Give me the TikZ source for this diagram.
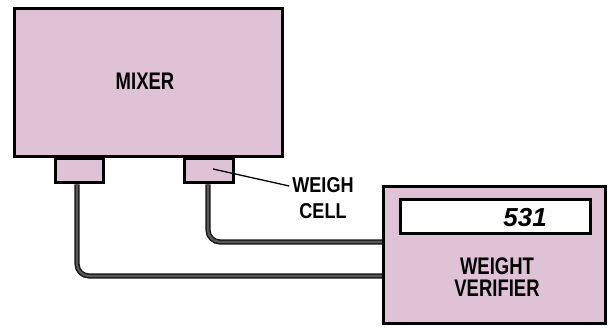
\documentclass[tikz,border=0pt]{standalone}
\usepackage{fontspec}
\usepackage{xcolor}
\usetikzlibrary{positioning, calc}
\newfontfamily\labelfont[FakeStretch=0.77]{Liberation Sans}
\newfontfamily\cellfont[FakeStretch=0.84]{Liberation Sans}
\definecolor{mixpink}{RGB}{224,194,214}
\tikzset{
  box/.style={draw=black, line width=3pt, fill=mixpink, inner sep=0pt},
  cable/.style={draw=black!90, line width=1.5pt, double=black!65, double distance=2.2pt, rounded corners=12pt},
  lbl/.style={font=\labelfont\bfseries, align=center, inner sep=0pt}
}

\begin{document}
\begin{tikzpicture}[x=1pt, y=-1pt]
  \useasboundingbox (0,0) rectangle (608,328);

  % Feet under the mixer
  \node[box, minimum width=48pt, minimum height=24pt] (lfoot) at (79.5,171) {};
  \node[box, minimum width=49pt, minimum height=24pt] (rfoot) at (209,171) {};

  % Mixer
  \node[box, minimum width=268pt, minimum height=148pt] (mixer) at (148,83) {};
  \node[lbl, font=\labelfont\bfseries\fontsize{24}{24}\selectfont] (mixlabel) at (145,81) {MIXER};

  % Weight verifier with display
  \node[box, minimum width=222pt, minimum height=137pt] (verifier) at (494.5,255) {};
  \node[draw=black, line width=3pt, fill=white, minimum width=190pt, minimum height=34pt] (display) at (495.5,216.5) {};
  \node[anchor=east, inner sep=0pt, font=\fontspec{Liberation Sans}\bfseries\itshape\fontsize{26}{26}\selectfont] (readout) at ([xshift=-45pt, yshift=-1pt]display.east) {531};
  \node[lbl, font=\labelfont\bfseries\fontsize{24}{22}\selectfont] (verlabel) at (497,277) {WEIGHT\\VERIFIER};

  % Weigh cell label and leader
  \node[lbl, font=\cellfont\bfseries\fontsize{21.5}{26}\selectfont] (celllabel) at (323,198) {WEIGH\\CELL};
  \draw[line width=1.3pt] ([xshift=4pt, yshift=2pt]rfoot.center) -- ([xshift=-3pt, yshift=12pt]celllabel.west);

  % Cables to the verifier
  \draw[cable] ([xshift=-2.5pt]lfoot.south) |- ([yshift=-21pt]verifier.west);
  \draw[cable] ([xshift=-1pt]rfoot.south) |- ([yshift=13pt]verifier.west);
\end{tikzpicture}
\end{document}
